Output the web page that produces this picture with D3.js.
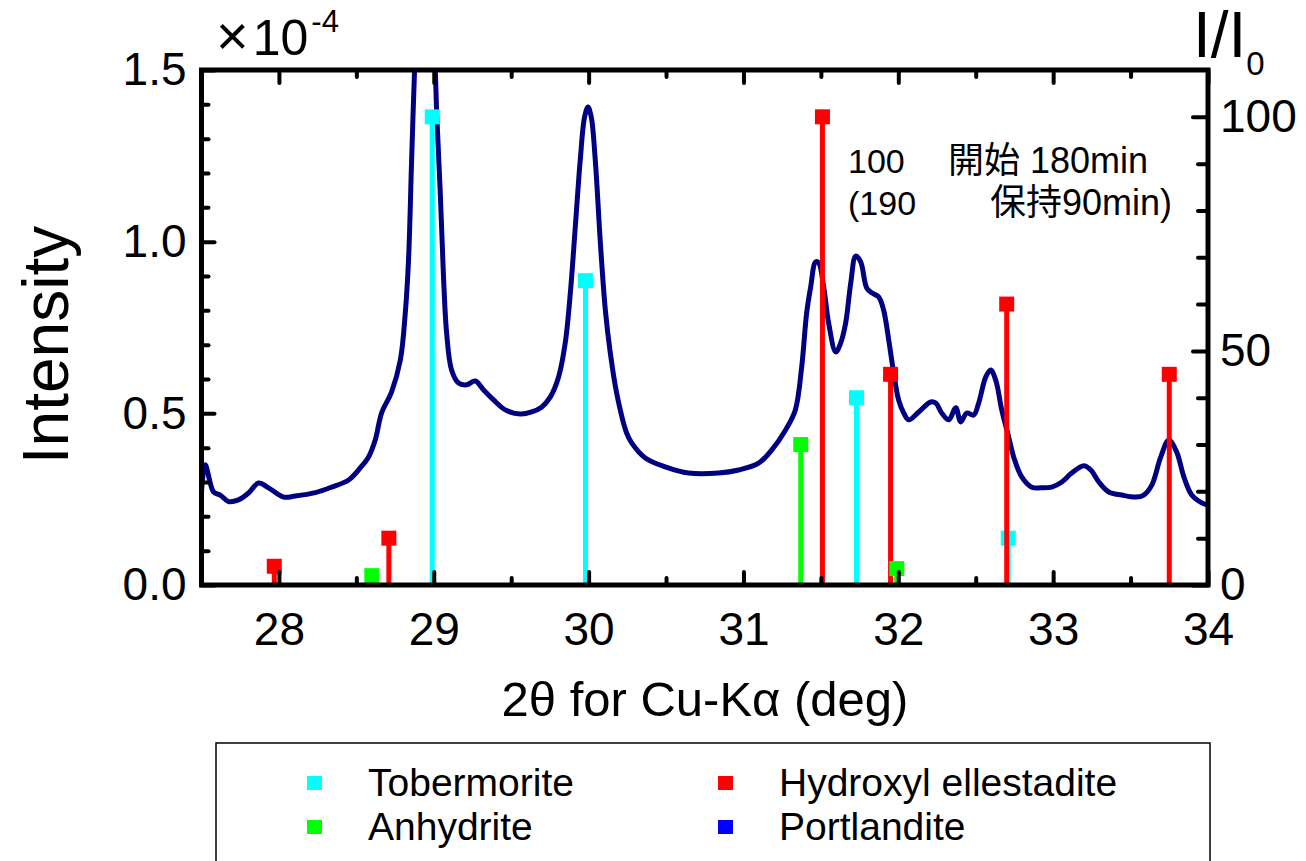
<!DOCTYPE html>
<html>
<head>
<meta charset="utf-8">
<script src="https://cdn.jsdelivr.net/npm/d3@7"></script>
<style>
  body { margin: 0; background: #fff; }
  svg text { font-family: "Liberation Sans", Arial, Helvetica, sans-serif; fill: #000; }
  .cjk { font-family: "Liberation Sans", "Noto Sans CJK JP", sans-serif; }
</style>
</head>
<body>
<svg id="chart" width="1306" height="861"></svg>
<script>
// Measured XRD pattern (2θ in degrees, intensity in units of 1e-4)
const twoTheta = [
  27.50, 27.524, 27.578, 27.621, 27.674, 27.739, 27.804, 27.868, 27.933, 28.030,
  28.105, 28.235, 28.340, 28.450, 28.525, 28.579, 28.622, 28.663, 28.727, 28.784,
  28.816, 28.837, 28.857, 28.876, 28.905, 28.940, 28.980, 29.010, 29.018, 29.042,
  29.063, 29.083, 29.115, 29.160, 29.212, 29.268, 29.322, 29.386, 29.462, 29.559,
  29.632, 29.696, 29.753, 29.806, 29.849, 29.882, 29.914, 29.946, 29.974, 29.996,
  30.017, 30.043, 30.076, 30.108, 30.140, 30.181, 30.245, 30.278, 30.366, 30.495,
  30.646, 30.840, 30.969, 31.098, 31.182, 31.271, 31.335, 31.376, 31.408, 31.434,
  31.466, 31.486, 31.518, 31.550, 31.596, 31.628, 31.660, 31.693, 31.725, 31.757,
  31.796, 31.828, 31.873, 31.905, 31.938, 31.970, 32.002, 32.035, 32.067, 32.132,
  32.209, 32.242, 32.280, 32.326, 32.371, 32.403, 32.442, 32.487, 32.519, 32.565,
  32.597, 32.629, 32.668, 32.713, 32.745, 32.797, 32.862, 32.920, 32.991, 33.056,
  33.120, 33.198, 33.243, 33.295, 33.359, 33.443, 33.534, 33.585, 33.637, 33.695,
  33.747, 33.798, 33.844, 33.895, 33.960, 34.00
];
const intensity = [
  0.271, 0.350, 0.271, 0.262, 0.243, 0.248, 0.268, 0.297, 0.283, 0.256,
  0.259, 0.269, 0.285, 0.306, 0.341, 0.373, 0.422, 0.501, 0.562, 0.655,
  0.792, 0.947, 1.238, 1.500, 1.800, 1.950, 1.800, 1.500, 1.384, 1.142,
  0.897, 0.734, 0.626, 0.588, 0.583, 0.594, 0.568, 0.539, 0.510, 0.498,
  0.504, 0.518, 0.548, 0.606, 0.705, 0.851, 1.043, 1.238, 1.363, 1.392,
  1.363, 1.238, 0.996, 0.801, 0.676, 0.559, 0.443, 0.414, 0.370, 0.344,
  0.326, 0.326, 0.335, 0.355, 0.393, 0.451, 0.510, 0.635, 0.792, 0.868,
  0.941, 0.938, 0.868, 0.763, 0.679, 0.705, 0.763, 0.880, 0.958, 0.941,
  0.865, 0.851, 0.839, 0.801, 0.714, 0.618, 0.539, 0.501, 0.481, 0.504,
  0.533, 0.530, 0.501, 0.481, 0.516, 0.475, 0.501, 0.495, 0.530, 0.606,
  0.626, 0.597, 0.510, 0.431, 0.373, 0.315, 0.285, 0.283, 0.285, 0.300,
  0.326, 0.347, 0.335, 0.300, 0.271, 0.262, 0.256, 0.262, 0.291, 0.373,
  0.422, 0.387, 0.315, 0.262, 0.239, 0.232
];

// Reference line positions [2θ, I/I0]
const tobermorite = [[28.99, 100], [29.98, 65], [31.73, 40], [32.71, 10]];
const ellestadite = [[27.97, 4], [28.71, 10], [31.51, 100], [31.95, 45], [32.70, 60], [33.75, 45]];
const anhydrite   = [[28.60, 2], [31.37, 30], [31.99, 3.5]];
const portlandite = [];

// Axis ticks
const xMajorTicks = [28, 29, 30, 31, 32, 33, 34];
const xMinorTicks = [27.5, 28.5, 29.5, 30.5, 31.5, 32.5, 33.5];
const yMajorTicks = [0, 0.5, 1.0, 1.5];
const yMinorTicks = [0.1, 0.2, 0.3, 0.4, 0.6, 0.7, 0.8, 0.9, 1.1, 1.2, 1.3, 1.4];
const rMajorTicks = [0, 50, 100];
const rMinorTicks = [10, 20, 30, 40, 60, 70, 80, 90];

// Legend
const legendNames  = ["Tobermorite", "Hydroxyl ellestadite", "Anhydrite", "Portlandite"];
const legendColors = ["#00ffff", "#ff0000", "#00ff00", "#0000ff"];

const L = 201.5, R = 1208, T = 70, B = 585;
const svg = d3.select("#chart");

const x = d3.scaleLinear().domain([27.5, 34]).range([L, R]);
const y = d3.scaleLinear().domain([0, 1.5]).range([B, T]);
const yR = d3.scaleLinear().domain([0, 110]).range([B, T]);

svg.append("defs").append("clipPath").attr("id", "plotClip")
  .append("rect").attr("x", L).attr("y", T).attr("width", R - L).attr("height", B - T);

// Pattern curve
const pts = twoTheta.map((t, i) => [t, intensity[i]]);
const line = d3.line().x(d => x(d[0])).y(d => y(d[1])).curve(d3.curveCatmullRom.alpha(0.5));
svg.append("path").datum(pts)
  .attr("clip-path", "url(#plotClip)")
  .attr("d", line)
  .attr("fill", "none")
  .attr("stroke", "#000080")
  .attr("stroke-width", 5)
  .attr("stroke-linejoin", "round");

// Reference sticks
const stickSets = [
  { data: tobermorite, color: "#00ffff" },
  { data: portlandite, color: "#0000ff" },
  { data: ellestadite, color: "#ff0000" },
  { data: anhydrite,   color: "#00ff00" }
];
const sticks = svg.append("g");
stickSets.forEach(s => {
  const g = sticks.append("g");
  g.selectAll("line").data(s.data).join("line")
    .attr("x1", d => x(d[0])).attr("x2", d => x(d[0]))
    .attr("y1", yR(0)).attr("y2", d => yR(d[1]))
    .attr("stroke", s.color).attr("stroke-width", 5);
  g.selectAll("rect").data(s.data).join("rect")
    .attr("x", d => x(d[0]) - 7.5).attr("y", d => yR(d[1]) - 7.5)
    .attr("width", 15).attr("height", 15)
    .attr("fill", s.color);
});

// Axes
function styleAxis(g, fontSize) {
  g.select(".domain").remove();
  g.selectAll(".tick line").attr("stroke", "#000").attr("stroke-width", 4).attr("stroke-linecap", "round");
  g.selectAll(".tick text").attr("font-size", fontSize).attr("font-family", "Liberation Sans, Arial, sans-serif");
}
const fmt1 = d3.format(".1f");

svg.append("g").attr("transform", `translate(0,${B})`)
  .call(d3.axisBottom(x).tickValues(xMajorTicks).tickSize(-13).tickPadding(27).tickFormat(d3.format("d")))
  .call(g => styleAxis(g, 46));
svg.append("g").attr("transform", `translate(0,${B})`)
  .call(d3.axisBottom(x).tickValues(xMinorTicks).tickSize(-7).tickFormat(""))
  .call(g => styleAxis(g, 0));
svg.append("g").attr("transform", `translate(0,${T})`)
  .call(d3.axisTop(x).tickValues(xMajorTicks).tickSize(-13).tickFormat(""))
  .call(g => styleAxis(g, 0));
svg.append("g").attr("transform", `translate(0,${T})`)
  .call(d3.axisTop(x).tickValues(xMinorTicks).tickSize(-7).tickFormat(""))
  .call(g => styleAxis(g, 0));

svg.append("g").attr("transform", `translate(${L},0)`)
  .call(d3.axisLeft(y).tickValues(yMajorTicks).tickSize(-13).tickPadding(15).tickFormat(fmt1))
  .call(g => styleAxis(g, 46));
svg.append("g").attr("transform", `translate(${L},0)`)
  .call(d3.axisLeft(y).tickValues(yMinorTicks).tickSize(-7).tickFormat(""))
  .call(g => styleAxis(g, 0));

svg.append("g").attr("transform", `translate(${R},0)`)
  .call(d3.axisRight(yR).tickValues(rMajorTicks).tickSize(-15).tickPadding(12).tickFormat(d3.format("d")))
  .call(g => styleAxis(g, 46));
svg.append("g").attr("transform", `translate(${R},0)`)
  .call(d3.axisRight(yR).tickValues(rMinorTicks).tickSize(-10).tickFormat(""))
  .call(g => styleAxis(g, 0));

// Frame
svg.append("rect").attr("x", L).attr("y", T).attr("width", R - L).attr("height", B - T)
  .attr("fill", "none").attr("stroke", "#000").attr("stroke-width", 5);

// Axis titles
svg.append("text").attr("x", 705).attr("y", 716).attr("text-anchor", "middle")
  .attr("font-size", 49).text("2θ for Cu-Kα (deg)");
svg.append("text").attr("transform", "translate(68,345) rotate(-90)").attr("text-anchor", "middle")
  .attr("font-size", 64).text("Intensity");

// Exponent label
const ex = svg.append("text").attr("x", 216).attr("y", 55).attr("font-size", 50);
ex.append("tspan").attr("font-size", 56).text("×");
ex.append("tspan").attr("dx", 4).text("10");
ex.append("tspan").attr("dy", -23).attr("dx", 3).attr("font-size", 31).text("-4");

// Right axis title I/I0
const ri = svg.append("text").attr("x", 1193).attr("y", 57).attr("font-size", 64);
ri.append("tspan").text("I/I");
ri.append("tspan").attr("dy", 18).attr("font-size", 33).text("0");

// Annotation
svg.append("text").attr("x", 848).attr("y", 173).attr("font-size", 34).text("100");
svg.append("text").attr("class", "cjk").attr("x", 948).attr("y", 173).attr("font-size", 36).text("開始 180min");
svg.append("text").attr("x", 848).attr("y", 215).attr("font-size", 34).text("(190");
svg.append("text").attr("class", "cjk").attr("x", 990).attr("y", 215).attr("font-size", 36).text("保持90min)");

// Legend box
svg.append("rect").attr("x", 216).attr("y", 743).attr("width", 994).attr("height", 140)
  .attr("fill", "#fff").attr("stroke", "#000").attr("stroke-width", 1.5);
const legendCols = [307, 718];
const legendRows = [783, 827];
const lg = svg.append("g");
legendNames.forEach((name, i) => {
  const cx = legendCols[i % 2], cy = legendRows[Math.floor(i / 2)];
  lg.append("rect").attr("x", cx).attr("y", cy - 7).attr("width", 15).attr("height", 14).attr("fill", legendColors[i]);
  lg.append("text").attr("x", cx + 61).attr("y", cy + 13).attr("font-size", 39).text(name);
});
</script>
</body>
</html>
